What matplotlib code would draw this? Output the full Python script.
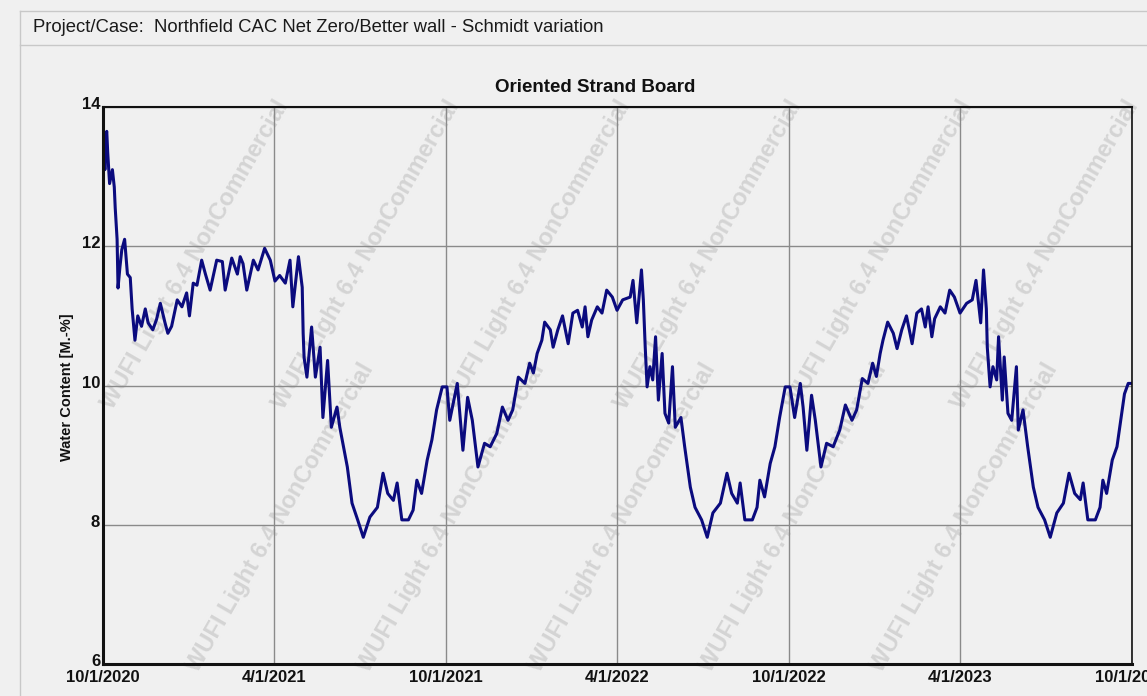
import numpy as np
import pandas as pd
import matplotlib
matplotlib.use('Agg')
import matplotlib.pyplot as plt
import matplotlib.transforms as mtransforms
from matplotlib.lines import Line2D

# --- data (days since 10/1/2020, water content M.-%) ---
days = [
    0, 1, 2, 3, 4, 5, 7, 10, 12, 13,
    15, 16, 18, 20, 23, 26, 29, 31, 34, 37,
    41, 45, 48, 53, 57, 61, 66, 69, 73, 79,
    84, 89, 92, 96, 100, 105, 109, 114, 121, 127,
    130, 137, 143, 146, 149, 153, 160, 165, 172, 178,
    183,
    188, 194, 199, 202, 208, 212, 213, 214, 217, 222,
    226, 231, 234, 239, 243, 249, 252, 260, 265, 271,
    277, 284, 292, 298, 303, 309, 313, 318, 325, 330,
    334, 339, 345, 350, 355, 361, 366, 369, 377, 383,
    388, 393, 399, 406, 412, 419, 425, 431, 436, 442,
    449, 454, 458, 462, 467, 470, 476, 479, 484, 489,
    495, 500, 505, 510, 513, 516, 520, 526, 531, 536,
    542, 547, 553, 561, 564, 568, 573, 575, 577, 579,
    582, 585, 588, 591, 595, 598, 602, 606, 609, 615,
    619, 625, 630, 637, 643, 649, 657, 664, 669, 675,
    678, 683, 691, 696, 699, 704, 710, 715, 720, 726,
    731, 736, 742, 745, 749,
    754, 758, 764, 770, 777, 784, 790, 797, 802, 808,
    814, 819, 823, 827, 830, 835, 841, 845, 850, 855,
    861, 866, 871, 875, 878, 882, 885, 891, 896, 901,
    906, 912, 919, 925, 929, 934, 937, 940, 941, 944,
    947, 951, 953, 957, 959, 963, 967, 972, 974, 979,
    984, 990, 995, 1002, 1008, 1015, 1022, 1028, 1034, 1040,
    1043, 1048, 1056, 1061, 1064, 1068, 1074, 1079, 1083, 1087,
    1091, 1095,
]
water_content = [
    13.2, 13.5, 13.1, 13.6, 13.65, 13.35, 12.9, 13.1, 12.85, 12.55,
    12.1, 11.4, 11.7, 11.95, 12.1, 11.6, 11.55, 11.1, 10.65, 11.0,
    10.85, 11.1, 10.9, 10.8, 10.95, 11.18, 10.9, 10.75, 10.85, 11.23,
    11.13, 11.33, 11.0, 11.47, 11.44, 11.8, 11.6, 11.37, 11.8, 11.78,
    11.37, 11.83, 11.6, 11.85, 11.75, 11.37, 11.8, 11.66, 11.97, 11.8,
    11.5,
    11.58, 11.47, 11.8, 11.13, 11.85, 11.41, 10.75, 10.4, 10.12, 10.84,
    10.12, 10.55, 9.54, 10.36, 9.4, 9.69, 9.4, 8.83, 8.31, 8.07,
    7.82, 8.11, 8.25, 8.74, 8.45, 8.35, 8.6, 8.07, 8.07, 8.21,
    8.64, 8.45, 8.93, 9.22, 9.65, 9.98, 9.98, 9.5, 10.03, 9.07,
    9.83, 9.5, 8.83, 9.17, 9.12, 9.31, 9.69, 9.5, 9.65, 10.12,
    10.03, 10.32, 10.18, 10.46, 10.65, 10.91, 10.8, 10.55, 10.8, 11.0,
    10.6, 11.04, 11.08, 10.84, 11.13, 10.7, 10.94, 11.13, 11.04, 11.37,
    11.27, 11.08, 11.23, 11.27, 11.51, 10.9, 11.66, 11.23, 10.55, 9.98,
    10.27, 10.08, 10.7, 9.79, 10.46, 9.6, 9.46, 10.27, 9.4, 9.54,
    9.12, 8.54, 8.25, 8.07, 7.82, 8.17, 8.31, 8.74, 8.45, 8.31,
    8.6, 8.07, 8.07, 8.25, 8.64, 8.4, 8.88, 9.12, 9.54, 9.98,
    9.98, 9.54, 10.03, 9.69, 9.07,
    9.86, 9.5, 8.83, 9.17, 9.12, 9.36, 9.72, 9.5, 9.65, 10.1,
    10.03, 10.32, 10.13, 10.46, 10.65, 10.91, 10.75, 10.53, 10.8, 11.0,
    10.6, 11.04, 11.1, 10.84, 11.13, 10.7, 10.96, 11.13, 11.04, 11.37,
    11.27, 11.04, 11.18, 11.23, 11.51, 10.9, 11.66, 11.1, 10.55, 9.98,
    10.27, 10.08, 10.7, 9.79, 10.41, 9.6, 9.5, 10.27, 9.36, 9.65,
    9.12, 8.54, 8.25, 8.07, 7.82, 8.17, 8.31, 8.74, 8.45, 8.36,
    8.6, 8.07, 8.07, 8.25, 8.64, 8.45, 8.93, 9.12, 9.5, 9.88,
    10.03, 10.03,
]

tick_dates = ['2020-10-01', '2021-04-01', '2021-10-01', '2022-04-01',
              '2022-10-01', '2023-04-01', '2023-10-01']
tick_labels = ['10/1/2020', '4/1/2021', '10/1/2021', '4/1/2022',
               '10/1/2022', '4/1/2023', '10/1/2023']
y_ticks = [6, 8, 10, 12, 14]

case_text = 'Project/Case:  Northfield CAC Net Zero/Better wall - Schmidt variation'
title_text = 'Oriented Strand Board'
ylabel_text = 'Water Content [M.-%]'
watermark = 'WUFI Light 6.4 NonCommercial'

assert len(days) == len(water_content)

start = pd.Timestamp('2020-10-01')
dates = start + pd.to_timedelta(days, unit='D')
ticks = pd.to_datetime(tick_dates)

fonts = ['Liberation Sans', 'DejaVu Sans']

W, H = 1147, 696
bg = '#f0f0f0'
fig = plt.figure(figsize=(W / 100, H / 100), dpi=100, facecolor=bg)

# header box / panel frame
def px_line(x0, y0, x1, y1, **kw):
    fig.add_artist(Line2D([x0 / W, x1 / W], [1 - y0 / H, 1 - y1 / H],
                          transform=fig.transFigure, **kw))

px_line(20, 11, W, 11, color='#c8c8c8', lw=1)
px_line(20, 45, W, 45, color='#c8c8c8', lw=1)
px_line(20, 11, 20, H, color='#c8c8c8', lw=1)
fig.text(33 / W, 1 - 27 / H, case_text, ha='left', va='center',
         fontsize=13.3, family=fonts, color='#1a1a1a')

ax = fig.add_axes([103 / W, 32 / H, 1029 / W, 557 / H])
ax.set_facecolor(bg)

# faint diagonal watermark pattern, each copy kept whole inside the plot
for yc, xs in [(255, [195, 366, 537, 708, 879, 1045]),
               (518, [280, 451, 622, 793, 964])]:
    for xc in xs:
        ax.text(xc / W, 1 - yc / H, watermark, transform=fig.transFigure,
                rotation=60, ha='center', va='center', fontsize=17,
                fontweight='bold', family=fonts, color='#d4d4d4',
                zorder=1, clip_on=False)

ax.plot(dates, water_content, color='#0b0b7e', lw=2.2, zorder=3)

ax.set_xlim(ticks[0], ticks[-1])
ax.set_ylim(6, 14)
ax.set_xticks(ticks)
ax.set_xticklabels(tick_labels, fontweight='bold', family=fonts, fontsize=12)
ax.set_yticks(y_ticks)
ax.set_yticklabels([str(v) for v in y_ticks], fontweight='bold', family=fonts,
                   fontsize=12)
ax.tick_params(length=0, colors='#111111')
ax.tick_params(axis='x', pad=4)
ax.tick_params(axis='y', pad=2)
lift = mtransforms.ScaledTranslation(0, 4 / 100, fig.dpi_scale_trans)
for lbl in ax.get_yticklabels():
    lbl.set_transform(lbl.get_transform() + lift)
ax.grid(True, color='#8a8a8a', lw=1, zorder=2)

for side in ['left', 'bottom']:
    ax.spines[side].set_linewidth(2.2)
ax.spines['top'].set_linewidth(1.5)
ax.spines['right'].set_linewidth(1.2)
for s in ax.spines.values():
    s.set_color('#111111')
    s.set_zorder(4)

fig.text(595 / W, 1 - 88 / H, title_text, ha='center', va='center',
         fontsize=13.5, fontweight='bold', family=fonts, color='#111111')
fig.text(67 / W, 1 - 387 / H, ylabel_text, ha='center', va='center',
         rotation=90, fontsize=10.5, fontweight='bold', family=fonts,
         color='#111111')

fig.savefig('out.png', dpi=100, facecolor=bg)
